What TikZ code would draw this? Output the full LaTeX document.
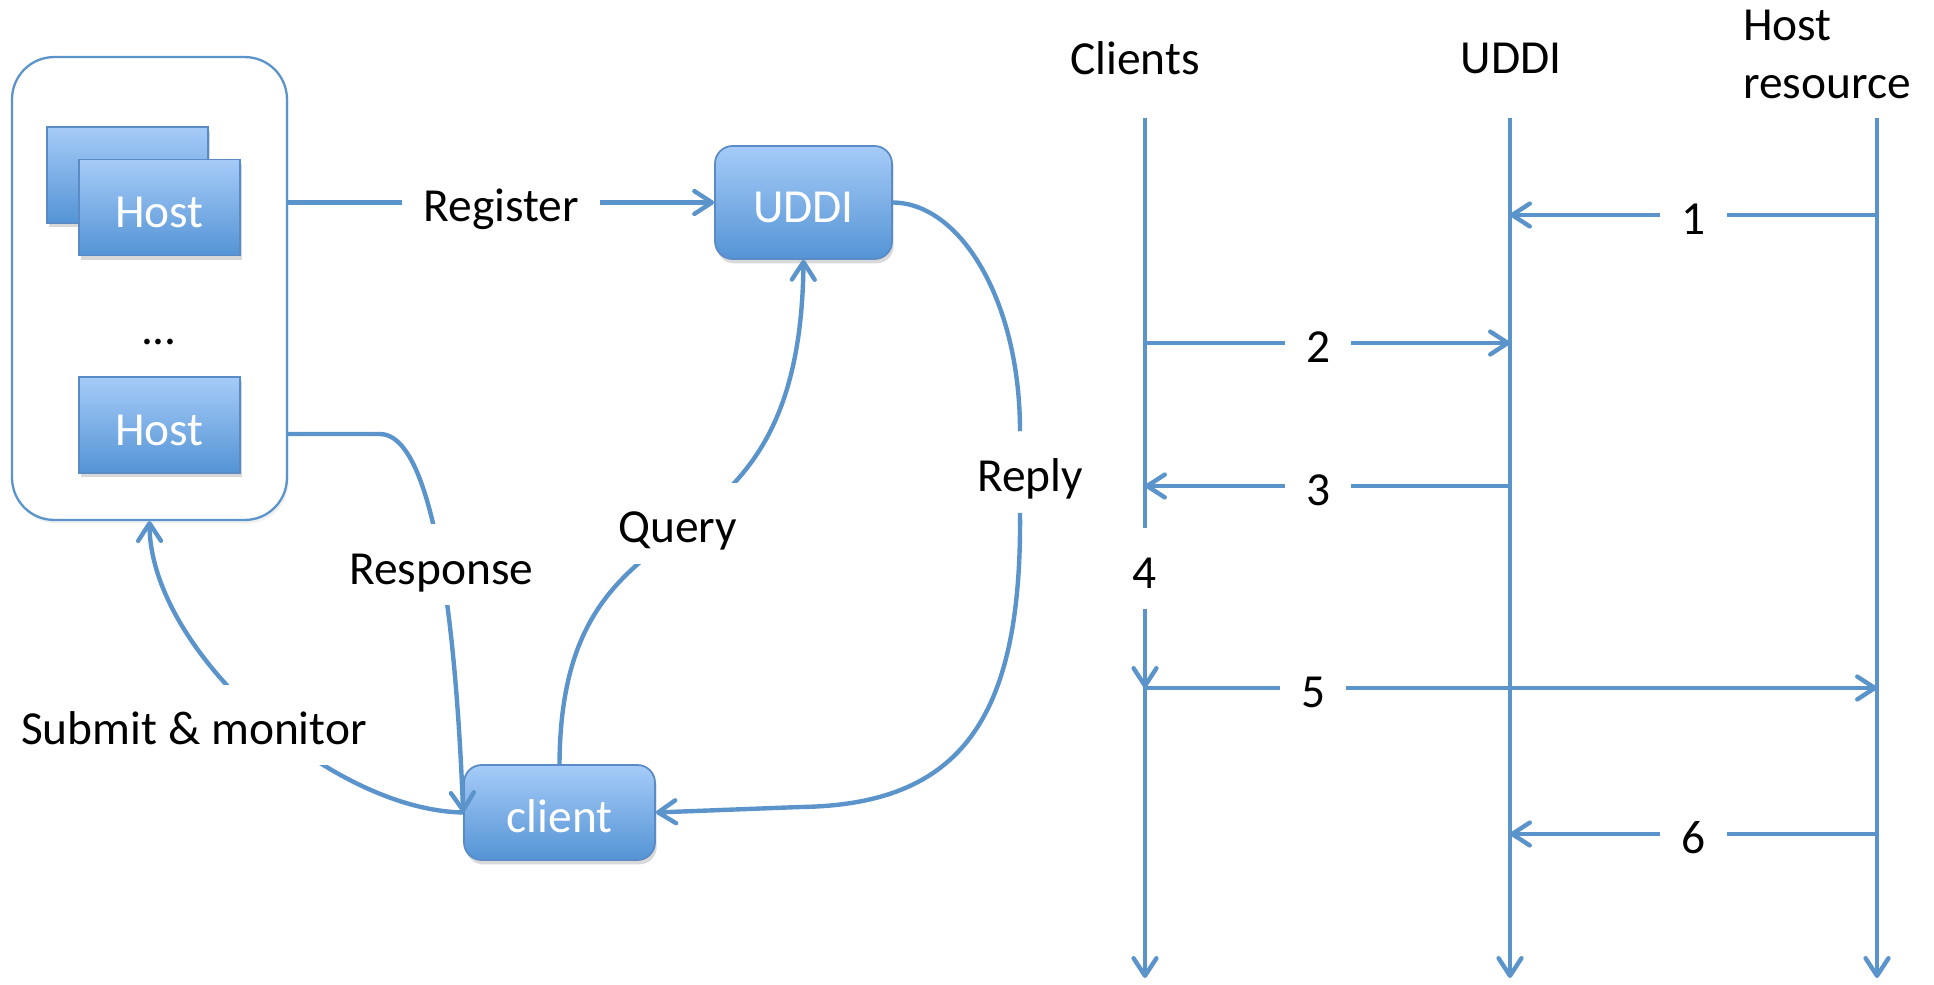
\documentclass[tikz,border=0pt]{standalone}
\usepackage{fontspec}
\setmainfont{Carlito}
\usepackage{tikz}
\usetikzlibrary{arrows.meta,positioning,shadows}
\definecolor{linkblue}{HTML}{5B93CB}
\definecolor{boxtop}{HTML}{A6CBF8}
\definecolor{boxbot}{HTML}{5494D5}
\definecolor{boxedge}{HTML}{5A8BC6}

\begin{document}
\begin{tikzpicture}[x=0.02cm, y=-0.02cm,
  font=\fontsize{27}{33}\selectfont,
  >={Straight Barb[length=10pt,width=13pt,round]},
  link/.style={draw=linkblue, line width=2.5pt},
  svc/.style={draw=boxedge, line width=1pt, top color=boxtop, bottom color=boxbot, text=white,
    text height=23pt, text depth=0pt,
    drop shadow={shadow xshift=1pt, shadow yshift=-2.5pt, opacity=0.3}},
  hostbox/.style={svc, minimum width=3.22cm, minimum height=1.92cm},
  lbl/.style={fill=white, text height=28pt, text depth=6pt, inner xsep=12pt, inner ysep=6pt}]
  \useasboundingbox (0,0) rectangle (1934,984);

  \node[draw=linkblue, line width=1.3pt, rounded corners=24pt, fill=white,
    minimum width=5.5cm, minimum height=9.26cm,
    drop shadow={shadow xshift=1pt, shadow yshift=-2pt, opacity=0.12}] (pool) at (149.5,288.5) {};
  \node[hostbox] (hostback) at (127.5,175) {};
  \node[hostbox] (hostA) at (159.5,207.5) {Host};
  \node (more) at (159,342) {...};
  \node[hostbox] (hostB) at (159.5,425) {Host};
  \node[svc, rounded corners=10pt, minimum width=3.54cm, minimum height=2.26cm] (uddi) at (803.5,202.5) {UDDI};
  \node[svc, rounded corners=10pt, minimum width=3.82cm, minimum height=1.9cm] (client) at (559.5,812.5) {client};

  \draw[link,->] (pool.east |- uddi.west) -- node[lbl] {Register} (uddi.west);
  \draw[link,->] (pool.east |- 0,434) -- (380,434) .. controls (430,434) and (455,600) ..
    node[lbl,pos=0.55] {Response} (client.west);
  \draw[link,->] (client.west) .. controls (330,810) and (150,650) .. (pool.south);
  \node[lbl] (submit) at (194,725) {Submit \& monitor};
  \draw[link,->] (client.north) .. controls (561,470) and (800,600) ..
    node[lbl,yshift=0.12cm,xshift=-0.06cm] {Query} (uddi.south);
  \node[lbl] (reply) at (1030,472) {Reply};
  \draw[link] (uddi.east) .. controls (960,203) and (1020,300) .. ([xshift=-0.2cm]reply.north);
  \draw[link,->] ([xshift=-0.2cm]reply.south) .. controls (1022,720) and (960,805) .. (800,807) -- (client.east);

  \node (hcl) at (1135,58) {Clients};
  \node (hud) at (1511,58) {UDDI};
  \node[align=left] (hhr) at (1827,54) {Host\\resource};
  \foreach \lane/\x in {cl/1145, ud/1510, hr/1877} {
    \coordinate (top-\lane) at (\x,118);
    \coordinate (end-\lane) at (\x,978);
    \draw[link,->] (top-\lane) -- (end-\lane);
  }
  \foreach \n/\a/\b/\y/\p in {1/hr/ud/215/0.5, 2/cl/ud/343/0.475, 3/ud/cl/486/0.525, 6/hr/ud/834/0.5}
    \draw[link,->] (top-\a |- 0,\y) -- node[lbl,pos=\p] {\n} (top-\b |- 0,\y);
  \draw[link,->] (top-cl |- 0,486) -- node[lbl,pos=0.41] {4} (top-cl |- 0,688);
  \draw[link,->] (top-cl |- 0,688) -- node[lbl,pos=0.23] {5} (top-hr |- 0,688);
\end{tikzpicture}
\end{document}
